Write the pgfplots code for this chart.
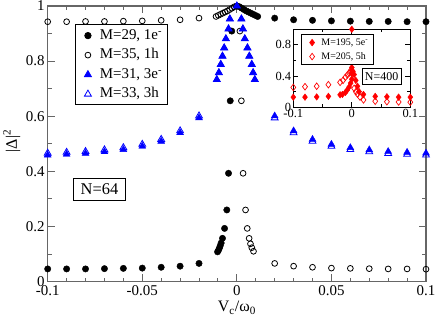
\documentclass[border=0pt]{standalone}
\usepackage{fontspec}
\setmainfont{Liberation Serif}
\usepackage{pgfplots}
\pgfplotsset{compat=1.18}
\usetikzlibrary{calc}

\definecolor{frame}{gray}{0.4}

\begin{document}
\begin{tikzpicture}
\begin{axis}[
    name=main,
    scale only axis,
    width=378.3bp, height=275.6bp,
    xmin=-0.1, xmax=0.1, ymin=0, ymax=1,
    xtick={-0.1,-0.05,0,0.05,0.1},
    xticklabels={-0.1,-0.05,0,0.05,0.1},
    ytick={0,0.2,0.4,0.6,0.8,1},
    yticklabels={0,0.2,0.4,0.6,0.8,1},
    minor x tick num=4, minor y tick num=1,
    tick align=inside,
    major tick length=7.5bp, minor tick length=4bp,
    axis line style={frame, line width=1.2bp},
    every tick/.style={frame, line width=1bp},
    tick label style={font=\fontsize{15}{15}\selectfont},
    xticklabel style={inner sep=1bp, yshift=-3bp},
    yticklabel style={inner sep=1bp, xshift=-2bp},
    xlabel={V\textsubscript{c}/ω\textsubscript{0}},
    ylabel={|Δ|\textsuperscript{2}},
    label style={font=\fontsize{16}{16}\selectfont},
    xlabel style={at={(axis description cs:0.5,-0.11)}, anchor=base},
    ylabel style={at={(axis description cs:-0.095,0.51)}, anchor=center},
    clip=false,
    legend cell align=left,
    legend image code/.code={\path (0bp,0bp) (18bp,0bp); \draw[#1] plot coordinates {(9bp,0bp)};},
    legend style={at={(axis cs:-0.0855,0.933)}, anchor=north west,
        draw=black, line width=0.8bp, fill=white,
        font=\fontsize{15}{15}\selectfont,
        inner xsep=3bp, inner ysep=1bp, row sep=0bp,
        nodes={inner sep=2.5bp, text height=11bp, text depth=3.5bp}},
]

% M=29, 1e-
\addplot[only marks, mark=*, mark size=3.2bp, draw=black, fill=black] coordinates {
 (-0.1,0.046) (-0.09,0.046) (-0.08,0.046) (-0.07,0.047) (-0.06,0.048)
 (-0.05,0.049) (-0.04,0.052) (-0.03,0.056) (-0.02,0.066)
 (-0.0102,0.108) (-0.0097,0.114) (-0.0092,0.122) (-0.0088,0.130)
 (-0.0083,0.140) (-0.0076,0.157) (-0.0065,0.193) (-0.0053,0.260)
 (-0.0044,0.393) (-0.0035,0.656) (-0.0027,0.909)
 (0,1.0) (0.0014,0.997) (0.0026,0.992) (0.0038,0.987) (0.005,0.982)
 (0.0062,0.978) (0.0074,0.974) (0.0086,0.970) (0.0098,0.966) (0.011,0.962)
 (0.02,0.956) (0.03,0.950) (0.04,0.948) (0.05,0.946) (0.06,0.945)
 (0.07,0.944) (0.08,0.944) (0.09,0.943) (0.1,0.943)
};
% M=35, 1h
\addplot[only marks, mark=o, mark size=2.9bp, draw=black, line width=0.8bp] coordinates {
 (-0.1,0.943) (-0.09,0.943) (-0.08,0.944) (-0.07,0.944) (-0.06,0.945)
 (-0.05,0.946) (-0.04,0.948) (-0.03,0.950) (-0.02,0.956)
 (-0.011,0.962) (-0.0098,0.966) (-0.0086,0.970) (-0.0074,0.974) (-0.0062,0.978)
 (-0.005,0.982) (-0.0038,0.987) (-0.0026,0.992) (-0.0014,0.997) (0,1.0)
 (0.0016,0.909) (0.0024,0.656) (0.0033,0.393) (0.0046,0.260) (0.0055,0.193)
 (0.0065,0.157) (0.0072,0.137) (0.0079,0.123) (0.0088,0.110)
 (0.02,0.066) (0.03,0.056) (0.04,0.052) (0.05,0.049) (0.06,0.048)
 (0.07,0.047) (0.08,0.046) (0.09,0.046) (0.1,0.045)
};
% M=31, 3e-
\addplot[only marks, mark=triangle*, mark size=4bp, draw=blue, fill=blue] coordinates {
 (-0.1,0.459) (-0.09,0.462) (-0.08,0.465) (-0.07,0.471) (-0.06,0.479)
 (-0.05,0.491) (-0.04,0.509) (-0.03,0.540) (-0.02,0.594)
 (-0.0106,0.733) (-0.0095,0.758) (-0.0085,0.788) (-0.0076,0.818)
 (-0.0067,0.848) (-0.0058,0.881) (-0.0044,0.917) (-0.0037,0.953) (0,1.0)
 (0.0024,0.953) (0.0032,0.917) (0.0042,0.881) (0.0056,0.848) (0.0066,0.818)
 (0.0079,0.788) (0.0086,0.758) (0.0095,0.733)
 (0.02,0.601) (0.03,0.547) (0.04,0.516) (0.05,0.498) (0.06,0.486)
 (0.07,0.478) (0.08,0.472) (0.09,0.469) (0.1,0.466)
};
% M=33, 3h
\addplot[only marks, mark=triangle, mark size=4bp, draw=blue, line width=0.8bp] coordinates {
 (-0.1,0.466) (-0.09,0.469) (-0.08,0.472) (-0.07,0.478) (-0.06,0.486)
 (-0.05,0.498) (-0.04,0.516) (-0.03,0.547) (-0.02,0.601)
 (-0.0106,0.733) (-0.0095,0.758) (-0.0085,0.788) (-0.0076,0.818)
 (-0.0067,0.848) (-0.0058,0.881) (-0.0044,0.917) (-0.0037,0.953) (0,1.0)
 (0.0024,0.953) (0.0032,0.917) (0.0042,0.881) (0.0056,0.848) (0.0066,0.818)
 (0.0079,0.788) (0.0086,0.758) (0.0095,0.733)
 (0.02,0.594) (0.03,0.540) (0.04,0.509) (0.05,0.491) (0.06,0.479)
 (0.07,0.471) (0.08,0.465) (0.09,0.462) (0.1,0.459)
};
\legend{M=29{,} 1e\textsuperscript{-}, M=35{,} 1h, M=31{,} 3e\textsuperscript{-}, M=33{,} 3h}

\node[draw=black, line width=0.8bp, fill=white, inner sep=0pt,
      minimum width=52.7bp, minimum height=22.4bp,
      font=\fontsize{16.5}{16.5}\selectfont] at (axis cs:-0.0726,0.335) {N=64};
\end{axis}

\begin{axis}[
    at={($(main.south west)+(245.6bp,174.3bp)$)}, anchor=south west,
    scale only axis,
    width=117bp, height=78bp,
    xmin=-0.1, xmax=0.1, ymin=0, ymax=1,
    xtick={-0.1,0,0.1}, xticklabels={-0.1,0,0.1},
    ytick={0,0.4,0.8}, yticklabels={0,0.4,0.8},
    minor x tick num=1, minor y tick num=1,
    tick align=inside,
    major tick length=5bp, minor tick length=3bp,
    axis line style={black, line width=1bp},
    every tick/.style={black, line width=0.8bp},
    axis background/.style={fill=white},
    tick label style={font=\fontsize{12.5}{12.5}\selectfont},
    xticklabel style={inner sep=1bp, yshift=-1bp},
    yticklabel style={inner sep=1bp, xshift=-1bp},
    clip=false,
    legend cell align=left,
    legend image code/.code={\path (0bp,0bp) (14bp,0bp); \draw[#1] plot coordinates {(7bp,0bp)};},
    legend style={at={(axis cs:-0.086,0.936)}, anchor=north west,
        draw=black, line width=0.6bp, fill=white,
        font=\fontsize{10}{10}\selectfont,
        inner xsep=3bp, inner ysep=1bp, row sep=0bp,
        nodes={inner sep=2bp, text height=7.5bp, text depth=2.5bp}},
]
% M=195, 5e-
\addplot[only marks, mark=diamond*, mark size=3.3bp, draw=red, fill=red] coordinates {
 (-0.1,0.13) (-0.08,0.13) (-0.06,0.133) (-0.04,0.14) (-0.02,0.16)
 (-0.016,0.165) (-0.011,0.19) (-0.008,0.22) (-0.0046,0.26) (-0.002,0.31)
 (0,0.36) (0,0.43) (0,0.47) (0,0.51) (0,1.0)
 (0.002,0.46) (0.004,0.42) (0.0068,0.345) (0.0097,0.27) (0.0125,0.2)
 (0.02,0.165) (0.04,0.14) (0.06,0.135) (0.08,0.13) (0.1,0.13)
};
% M=205, 5h
\addplot[only marks, mark=diamond, mark size=3.3bp, draw=red, line width=0.7bp] coordinates {
 (-0.1,0.255) (-0.08,0.264) (-0.06,0.27) (-0.04,0.29) (-0.02,0.32)
 (-0.015,0.345) (-0.011,0.385) (-0.0075,0.415) (-0.0045,0.44) (-0.002,0.47)
 (0.004,0.243) (0.007,0.2) (0.0097,0.17) (0.014,0.131) (0.02,0.095)
 (0.04,0.078) (0.06,0.072) (0.08,0.068) (0.1,0.066)
};
\legend{M=195{,} 5e\textsuperscript{-}, M=205{,} 5h}

\node[draw=black, line width=0.7bp, fill=white, inner sep=0pt,
      minimum width=39bp, minimum height=15.7bp,
      font=\fontsize{12}{12}\selectfont] at (axis cs:0.051,0.40) {N=400};
\end{axis}

\pgfresetboundingbox
\path[use as bounding box] ($(main.south west)+(-47.7bp,-41.4bp)$) rectangle ($(main.north east)+(10bp,6bp)$);
\end{tikzpicture}
\end{document}
